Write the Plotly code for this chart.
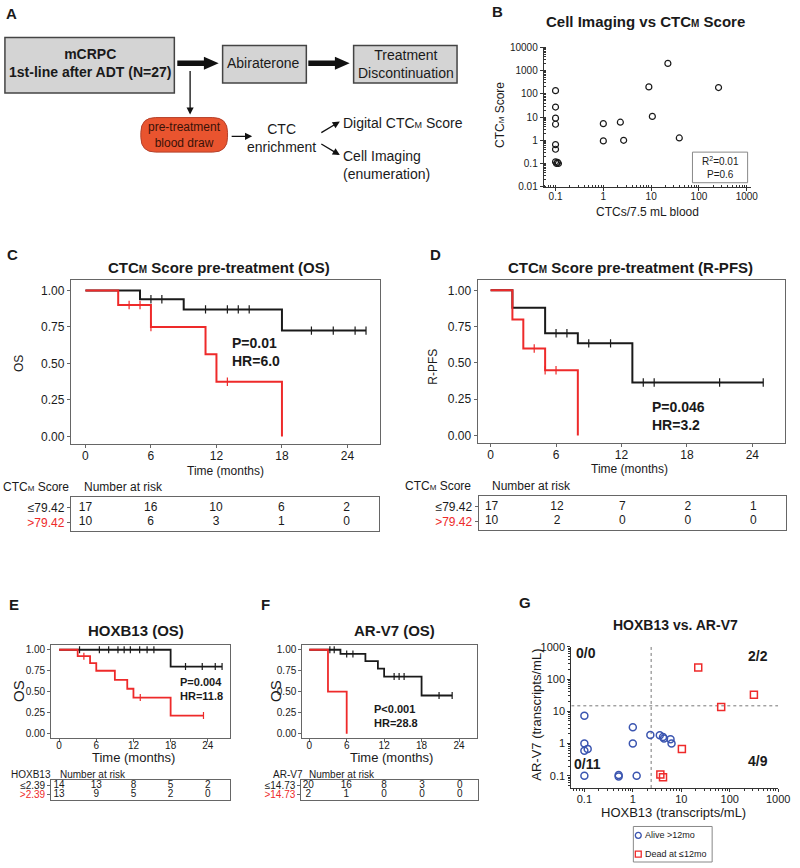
import plotly.graph_objects as go

W, H = 800, 868
def px(x): return x / W
def py(y): return 1 - y / H

FONT = "Liberation Sans, Arial, sans-serif"
TXT = "#1a1a1a"
BLACK = "#1a1a1a"
RED = "#ee2a2a"
FRAME = "#666666"
BLUE = "#3b55b0"

# ---------------- DATA ----------------
# Panel B: CTC counts vs CTC-M score
b_ctc = [0.1, 0.1, 0.1, 0.1, 0.1, 0.1, 0.1, 0.105, 0.11, 0.115, 1.0, 1.0, 2.27, 2.66, 8.96, 10.6, 22.4, 38.8, 257]
b_score = [138, 27, 9, 4.9, 0.65, 0.41, 0.118, 0.1, 0.112, 0.1, 5.2, 0.94, 6.0, 1.0, 200, 10.7, 2060, 1.26, 187]
b_xticks = [0.1, 1, 10, 100, 1000]
b_yticks = [0.01, 0.1, 1, 10, 100, 1000, 10000]

# Panel C: OS by CTC-M score
c_lo_t = [0, 5, 9, 18, 25.7]
c_lo_s = [1.0, 0.94, 0.87, 0.725, 0.725]
c_lo_cens = [6, 7, 11, 13, 14, 15, 20.7, 22.7, 24.7, 25.7]
c_hi_t = [0, 3, 6, 11, 12, 18]
c_hi_s = [1.0, 0.9, 0.75, 0.5625, 0.375, 0.0]
c_hi_cens = [4, 5, 6, 13]
c_risk_lo = [17, 16, 10, 6, 2]
c_risk_hi = [10, 6, 3, 1, 0]

# Panel D: R-PFS by CTC-M score
d_lo_t = [0, 2, 5, 8, 13, 25]
d_lo_s = [1.0, 0.88, 0.705, 0.635, 0.365, 0.365]
d_lo_cens = [6, 7, 9, 11, 14, 15, 21, 25]
d_hi_t = [0, 2, 3, 5, 8]
d_hi_s = [1.0, 0.8, 0.6, 0.45, 0.0]
d_hi_cens = [4, 5, 6]
d_risk_lo = [17, 12, 7, 2, 1]
d_risk_hi = [10, 2, 0, 0, 0]

# Panel E: OS by HOXB13
e_lo_t = [0, 18, 26.3]
e_lo_s = [1.0, 0.8, 0.8]
e_lo_cens = [3.3, 6.5, 8, 9.5, 10.5, 11.5, 13, 14.2, 15.3, 20.4, 23.1, 25.2, 26.3]
e_hi_t = [0, 3, 5, 6, 9, 11, 12, 18, 23.3]
e_hi_s = [1.0, 0.923, 0.84, 0.75, 0.64, 0.535, 0.43, 0.215, 0.215]
e_hi_cens = [4, 13.1, 23.3]
e_risk_lo = [14, 13, 8, 5, 2]
e_risk_hi = [13, 9, 5, 2, 0]

# Panel F: OS by AR-V7
f_lo_t = [0, 5, 9, 11, 12, 18, 22.9]
f_lo_s = [1.0, 0.95, 0.865, 0.775, 0.68, 0.455, 0.455]
f_lo_cens = [3.3, 4, 6, 7, 13.6, 14.4, 15.2, 20.8, 22.9]
f_hi_t = [0, 3, 6]
f_hi_s = [1.0, 0.5, 0.0]
f_hi_cens = []
f_risk_lo = [20, 16, 8, 3, 0]
f_risk_hi = [2, 1, 0, 0, 0]

risk_times = [0, 6, 12, 18, 24]
km_xticks = [0, 6, 12, 18, 24]
km_yticks = [0, 0.25, 0.5, 0.75, 1.0]
km_yticktext = ["0.00", "0.25", "0.50", "0.75", "1.00"]

# Panel G: HOXB13 vs AR-V7
alive_hox = [0.1, 0.1, 0.1, 0.117, 0.1, 0.51, 0.51, 1.0, 1.0, 1.2, 2.3, 3.6, 4.2, 4.4, 6.0, 6.3]
alive_arv = [7.2, 1.0, 0.6, 0.68, 0.1, 0.105, 0.095, 3.2, 1.0, 0.1, 1.82, 1.8, 1.6, 1.43, 1.36, 1.0]
dead_hox = [22.4, 316, 66.7, 10.3, 3.7, 4.2]
dead_arv = [226, 32.6, 13.6, 0.68, 0.11, 0.089]
hox_cut = 2.39
arv_cut = 14.73
g_ticks = [0.1, 1, 10, 100, 1000]
legend_labels = ["Alive >12mo", "Dead at ≤12mo"]

# ---------------- FIGURE ----------------
fig = go.Figure()
ann = []
shapes = []

def text(x, y, s, size=12, bold=False, color=TXT, xanchor="center", yanchor="middle", angle=0, align="center"):
    if bold:
        s = f"<b>{s}</b>"
    ann.append(dict(x=px(x), y=py(y), xref="paper", yref="paper", text=s, showarrow=False,
                    font=dict(size=size, color=color, family=FONT), xanchor=xanchor,
                    yanchor=yanchor, textangle=angle, align=align))

def small_m(size):
    return f'<span style="font-size:{size}px">M</span>'

def rect(x0, y0, x1, y1, fill="rgba(0,0,0,0)", line="#333", lw=1.2):
    shapes.append(dict(type="rect", xref="paper", yref="paper", x0=px(x0), x1=px(x1),
                       y0=py(y1), y1=py(y0), fillcolor=fill, line=dict(color=line, width=lw)))

def path(pts, fill, line=None, lw=0):
    d = "M " + " L ".join(f"{px(a):.5f},{py(b):.5f}" for a, b in pts) + " Z"
    shapes.append(dict(type="path", xref="paper", yref="paper", path=d, fillcolor=fill,
                       line=dict(color=line or fill, width=lw)))

def thick_arrow(x0, x1, y, head=15, shaft=2.7, hh=6.5, color="#111"):
    xh = x1 - head
    path([(x0, y - shaft), (xh, y - shaft), (xh, y - hh), (x1, y), (xh, y + hh), (xh, y + shaft), (x0, y + shaft)], color)

def thin_arrow(x0, y0, x1, y1):
    ann.append(dict(x=px(x1), y=py(y1), ax=x0 - x1, ay=y0 - y1, xref="paper", yref="paper",
                    axref="pixel", ayref="pixel", text="", showarrow=True, arrowhead=2,
                    arrowsize=1.1, arrowwidth=1.3, arrowcolor="#111"))

# ---- Panel A (flowchart) ----
rect(5, 32, 177, 88, fill="#d4d4d4", line="#444", lw=1.5)
rect(226, 40, 311, 78, fill="#d4d4d4", line="#444", lw=1.5)
rect(359, 40, 464, 78, fill="#d4d4d4", line="#444", lw=1.5)
thick_arrow(180, 222, 58)
thick_arrow(313, 355, 58)
thin_arrow(193, 65, 193, 110)
# rounded red box
x0, y0, x1, y1, r = 143, 113, 231, 148, 15
d = (f"M {px(x0 + r)},{py(y0)} L {px(x1 - r)},{py(y0)} Q {px(x1)},{py(y0)} {px(x1)},{py(y0 + r)} "
     f"L {px(x1)},{py(y1 - r)} Q {px(x1)},{py(y1)} {px(x1 - r)},{py(y1)} L {px(x0 + r)},{py(y1)} "
     f"Q {px(x0)},{py(y1)} {px(x0)},{py(y1 - r)} L {px(x0)},{py(y0 + r)} Q {px(x0)},{py(y0)} {px(x0 + r)},{py(y0)} Z")
shapes.append(dict(type="path", xref="paper", yref="paper", path=d, fillcolor="#e9542f",
                   line=dict(color="#b5402a", width=1)))
thin_arrow(234, 132, 256, 132)
thin_arrow(325, 129, 345, 117)
thin_arrow(325, 139, 345, 151)

text(91, 58, "mCRPC<br>1st-line after ADT (N=27)", size=14, bold=True)
text(268, 58, "Abiraterone", size=14)
text(412, 59, "Treatment<br>Discontinuation", size=14)
text(187, 131, "pre-treatment<br>blood draw", size=12, color="#3a1208")
text(286, 134, "CTC<br>enrichment", size=14)
text(346, 118, "Digital CTC" + small_m(9) + " Score", size=14, xanchor="left")
text(346, 161, "Cell Imaging<br>(enumeration)", size=14, xanchor="left", align="left")

# ---- Panel letters ----
for L, x, y in [("A", 4, 8), ("B", 497, 6), ("C", 5, 252), ("D", 435, 252),
                ("E", 7, 606), ("F", 263, 606), ("G", 525, 604)]:
    text(x, y, L, size=15, bold=True, xanchor="left")

# ---- Panel B ----
fig.add_trace(go.Scatter(x=b_ctc, y=b_score, mode="markers", xaxis="x", yaxis="y", showlegend=False,
                         marker=dict(symbol="circle-open", size=6, color=BLACK, line=dict(width=1.2, color=BLACK))))
axis_common = dict(showgrid=False, zeroline=False, fixedrange=True)
fig.update_layout(
    xaxis=dict(type="log", domain=[px(552), px(762)], range=[-1.247, 3.08], anchor="y",
               showline=True, linecolor="#333", linewidth=1, ticks="outside", ticklen=3, tickcolor="#333",
               ticklabelstandoff=-3,
               tickvals=b_xticks, ticktext=[str(v) for v in b_xticks], tickfont=dict(size=10, color=TXT),
               minor=dict(ticks="inside", ticklen=2, tickcolor="#333", dtick="D1"), **axis_common),
    yaxis=dict(type="log", domain=[py(183), py(42)], range=[-2, 4], anchor="x",
               showline=True, linecolor="#333", linewidth=1, ticks="outside", ticklen=3, tickcolor="#333",
               tickvals=b_yticks, ticktext=[f"{v:g}" for v in b_yticks], tickfont=dict(size=10, color=TXT),
               minor=dict(ticks="inside", ticklen=2, tickcolor="#333", dtick="D1"), **axis_common),
)
text(655, 16, "Cell Imaging vs CTC" + small_m(10) + " Score", size=15, bold=True)
text(507, 110, "CTC" + small_m(8) + " Score", size=12, angle=-90)
text(657, 209, "CTCs/7.5 mL blood", size=12)
rect(703, 148, 759, 179, line="#888", lw=1)
text(731, 164, "R<sup>2</sup>=0.01<br>P=0.6", size=10)

# ---- KM helpers ----
def surv_at(tc, t, s):
    out = []
    for c in tc:
        v = s[0]
        for ti, si in zip(t, s):
            if ti <= c:
                v = si
        out.append(v)
    return out

def km(t, s, cens, n, color, lw=2, msize=6):
    xa, ya = f"x{n}", f"y{n}"
    fig.add_trace(go.Scatter(x=t, y=s, mode="lines", line=dict(color=color, width=lw, shape="hv"),
                             xaxis=xa, yaxis=ya, showlegend=False, hoverinfo="skip"))
    if cens:
        fig.add_trace(go.Scatter(x=cens, y=surv_at(cens, t, s), mode="markers", xaxis=xa, yaxis=ya,
                                 showlegend=False, hoverinfo="skip",
                                 marker=dict(symbol="line-ns", size=msize, line=dict(color=color, width=1.2))))

def km_axes(n, xd, yd, xr, yr, fs, xstand=0):
    fig.update_layout(**{
        f"xaxis{n}": dict(domain=[px(xd[0]), px(xd[1])], range=xr, anchor=f"y{n}", showline=True, mirror=True,
                          linecolor=FRAME, linewidth=1.2, ticks="outside", ticklen=3, tickcolor=FRAME,
                          ticklabelstandoff=xstand,
                          tickvals=km_xticks, tickfont=dict(size=fs, color=TXT), **axis_common),
        f"yaxis{n}": dict(domain=[py(yd[1]), py(yd[0])], range=yr, anchor=f"x{n}", showline=True, mirror=True,
                          linecolor=FRAME, linewidth=1.2, ticks="outside", ticklen=3, tickcolor=FRAME,
                          tickvals=km_yticks, ticktext=km_yticktext, tickfont=dict(size=fs, color=TXT),
                          **axis_common),
    })

def risk_table(n, xd, yd, xr, yr, labels, lo, hi, fs):
    fig.add_trace(go.Scatter(x=risk_times + risk_times, y=[1] * len(lo) + [0] * len(hi), mode="text",
                             text=[str(v) for v in lo + hi], textfont=dict(size=fs, color=TXT, family=FONT),
                             xaxis=f"x{n}", yaxis=f"y{n}", showlegend=False, hoverinfo="skip"))
    fig.update_layout(**{
        f"xaxis{n}": dict(domain=[px(xd[0]), px(xd[1])], range=xr, anchor=f"y{n}", showline=True, mirror=True,
                          linecolor=FRAME, linewidth=1.2, showticklabels=False, ticks="", **axis_common),
        f"yaxis{n}": dict(domain=[py(yd[1]), py(yd[0])], range=yr, anchor=f"x{n}", showline=True, mirror=True,
                          linecolor=FRAME, linewidth=1.2, ticks="outside", ticklen=3, tickcolor=FRAME,
                          tickvals=[1, 0], ticktext=[labels[0], f'<span style="color:{RED}">{labels[1]}</span>'],
                          tickfont=dict(size=fs, color=TXT), **axis_common),
    })

# ---- Panel C ----
c_xr = [-1.33, 27.0]
km(c_lo_t, c_lo_s, c_lo_cens, 2, BLACK)
km(c_hi_t, c_hi_s, c_hi_cens, 2, RED)
km_axes(2, (72, 386), (278, 444), c_xr, [-0.054, 1.068], 12, xstand=-3)
text(222, 265, "CTC" + small_m(10) + " Score pre-treatment (OS)", size=15, bold=True)
text(20, 362, "OS", size=12, angle=-90)
text(229, 471, "Time (months)", size=12)
text(233, 350, "P=0.01<br>HR=6.0", size=14, bold=True, xanchor="left", align="left")
risk_table(7, (72, 385), (497, 532), c_xr, [-0.6, 1.73], ["≤79.42", ">79.42"], c_risk_lo, c_risk_hi, 12)
text(1, 487, "CTC" + small_m(8) + " Score", size=12, xanchor="left")
text(83, 487, "Number at risk", size=12, xanchor="left")

# ---- Panel D ----
d_xr = [-1.18, 27.0]
km(d_lo_t, d_lo_s, d_lo_cens, 3, BLACK)
km(d_hi_t, d_hi_s, d_hi_cens, 3, RED)
km_axes(3, (485, 797), (278, 443), d_xr, [-0.054, 1.068], 12, xstand=-3)
text(640, 265, "CTC" + small_m(10) + " Score pre-treatment (R-PFS)", size=15, bold=True)
text(440, 365, "R-PFS", size=12, angle=-90)
text(639, 469, "Time (months)", size=12)
text(660, 415, "P=0.046<br>HR=3.2", size=14, bold=True, xanchor="left", align="left")
risk_table(8, (486, 798), (496, 531), d_xr, [-0.6, 1.73], ["≤79.42", ">79.42"], d_risk_lo, d_risk_hi, 12)
text(480, 486, "CTC" + small_m(8) + " Score", size=12, xanchor="right")
text(497, 486, "Number at risk", size=12, xanchor="left")

# ---- Panel E ----
e_xr = [-1.27, 27.5]
km(e_lo_t, e_lo_s, e_lo_cens, 4, BLACK, lw=1.8, msize=5)
km(e_hi_t, e_hi_s, e_hi_cens, 4, RED, lw=1.8, msize=5)
km_axes(4, (52, 233), (647, 741), e_xr, [-0.047, 1.059], 10, xstand=-5)
text(138, 633, "HOXB13 (OS)", size=15, bold=True)
text(18, 694, "OS", size=15, angle=-90)
text(136, 761, "Time (months)", size=13)
text(181, 692, "P=0.004<br>HR=11.8", size=11, bold=True, xanchor="left", align="left")
risk_table(9, (52, 233), (784, 804), e_xr, [-0.5, 1.5], ["≤2.39", ">2.39"], e_risk_lo, e_risk_hi, 10)
text(9, 778, "HOXB13", size=10, xanchor="left")
text(59, 778, "Number at risk", size=10, xanchor="left")

# ---- Panel F ----
f_xr = [-1.1, 26.84]
km(f_lo_t, f_lo_s, f_lo_cens, 5, BLACK, lw=1.8, msize=5)
km(f_hi_t, f_hi_s, f_hi_cens, 5, RED, lw=1.8, msize=5)
km_axes(5, (307, 484), (647, 741), f_xr, [-0.047, 1.059], 10, xstand=-5)
text(400, 633, "AR-V7 (OS)", size=15, bold=True)
text(279, 694, "OS", size=15, angle=-90)
text(397, 761, "Time (months)", size=13)
text(378, 719, "P&lt;0.001<br>HR=28.8", size=11, bold=True, xanchor="left", align="left")
risk_table(10, (306, 485), (784, 804), f_xr, [-0.5, 1.5], ["≤14.73", ">14.73"], f_risk_lo, f_risk_hi, 10)
text(275, 778, "AR-V7", size=10, xanchor="left")
text(312, 778, "Number at risk", size=10, xanchor="left")

# ---- Panel G ----
g_xr = [-1.27, 3.0]
g_yr = [-1.38, 3.0]
fig.add_trace(go.Scatter(x=[hox_cut, hox_cut], y=[10 ** g_yr[0], 10 ** g_yr[1]], mode="lines", xaxis="x6", yaxis="y6",
                         line=dict(color="#777", width=1, dash="dot"), showlegend=False, hoverinfo="skip"))
fig.add_trace(go.Scatter(x=[10 ** g_xr[0], 10 ** g_xr[1]], y=[arv_cut, arv_cut], mode="lines", xaxis="x6", yaxis="y6",
                         line=dict(color="#777", width=1, dash="dot"), showlegend=False, hoverinfo="skip"))
fig.add_trace(go.Scatter(x=alive_hox, y=alive_arv, mode="markers", xaxis="x6", yaxis="y6", name=legend_labels[0],
                         showlegend=False,
                         marker=dict(symbol="circle-open", size=7, color=BLUE, line=dict(width=1.5, color=BLUE))))
fig.add_trace(go.Scatter(x=dead_hox, y=dead_arv, mode="markers", xaxis="x6", yaxis="y6", name=legend_labels[1],
                         showlegend=False,
                         marker=dict(symbol="square-open", size=7, color=RED, line=dict(width=1.5, color=RED))))
fig.update_layout(
    xaxis6=dict(type="log", domain=[px(580), px(790)], range=g_xr, anchor="y6", showline=True, linecolor="#333",
                linewidth=1, ticks="outside", ticklen=3, tickcolor="#333", tickvals=g_ticks,
                ticklabelstandoff=-2,
                ticktext=[f"{v:g}" for v in g_ticks], tickfont=dict(size=11, color=TXT),
                minor=dict(ticks="outside", ticklen=2, tickcolor="#333", dtick="D1"), **axis_common),
    yaxis6=dict(type="log", domain=[py(792), py(649)], range=g_yr, anchor="x6", showline=True, linecolor="#333",
                linewidth=1, ticks="outside", ticklen=3, tickcolor="#333", tickvals=g_ticks,
                ticktext=[f"{v:g}" for v in g_ticks], tickfont=dict(size=11, color=TXT),
                minor=dict(ticks="outside", ticklen=2, tickcolor="#333", dtick="D1"), **axis_common),
)
text(686, 627, "HOXB13 vs. AR-V7", size=14, bold=True)
text(545, 718, "AR-V7 (transcripts/mL)", size=13, angle=-90)
text(684, 817, "HOXB13 (transcripts/mL)", size=13)
text(595, 655, "0/0", size=14, bold=True)
text(770, 658, "2/2", size=14, bold=True)
text(596, 768, "0/11", size=14, bold=True)
text(770, 765, "4/9", size=14, bold=True)

# manual legend (box, symbols, labels)
rect(643, 831, 723, 867, line="#888", lw=1)
shapes.append(dict(type="circle", xref="paper", yref="paper", x0=px(645), x1=px(651), y0=py(843), y1=py(837),
                   line=dict(color=BLUE, width=1.3)))
shapes.append(dict(type="rect", xref="paper", yref="paper", x0=px(645), x1=px(651), y0=py(862), y1=py(856),
                   line=dict(color=RED, width=1.3)))
text(653, 840, legend_labels[0], size=9, xanchor="left")
text(653, 859, legend_labels[1], size=9, xanchor="left")

fig.update_layout(
    width=W, height=H, margin=dict(l=0, r=0, t=0, b=0),
    paper_bgcolor="white", plot_bgcolor="white",
    font=dict(family=FONT, color=TXT),
    annotations=ann, shapes=shapes,
    showlegend=False,
)

fig.write_html("out.html", config={"displayModeBar": False},
               post_script="document.body.style.margin='0';document.body.style.padding='0';")
